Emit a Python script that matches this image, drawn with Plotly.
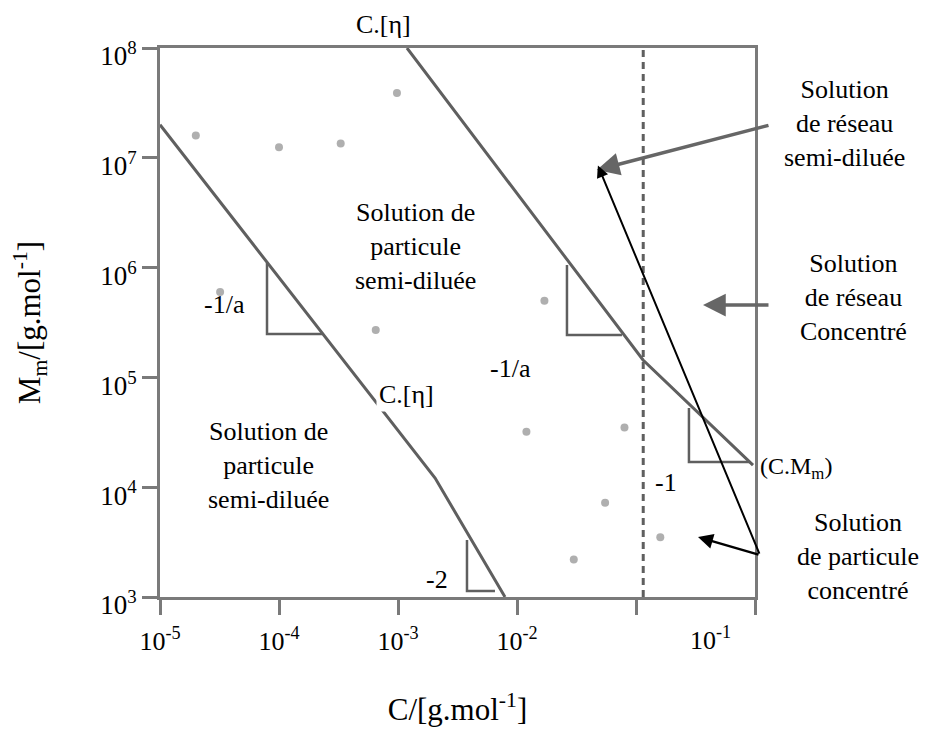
import plotly.graph_objects as go

FONT = "Liberation Serif"
LINE_GREY = "#5f5f5f"
AXIS_GREY = "#7a7a7a"

# ---- data (log-log diagram) ----
# boundary C.[eta] (dilute / semi-dilute particle solution)
left_x = [1.0e-5, 2.05e-3, 7.93e-3]
left_y = [2.0e7, 1.21e4, 1.0e3]
# boundary C.[eta] (semi-dilute particle / network)
mid_x = [1.19e-3, 0.1146, 0.962]
mid_y = [1.0e8, 1.44e5, 1.59e4]
# vertical dashed boundary
dash_x = [0.115, 0.115]
dash_y = [1.0e3, 1.0e8]
# slope triangles (legs only)
tri_1a_x = [7.93e-5, 7.93e-5, 2.30e-4]
tri_1a_y = [1.10e6, 2.48e5, 2.48e5]
tri_2_x = [3.80e-3, 3.80e-3, 6.53e-3]
tri_2_y = [3.30e3, 1.135e3, 1.135e3]
tri_1b_x = [0.0263, 0.0263, 0.0762]
tri_1b_y = [1.057e6, 2.43e5, 2.43e5]
tri_m1_x = [0.2786, 0.2786, 0.908]
tri_m1_y = [5.26e4, 1.70e4, 1.70e4]
# scan specks
speck_x = [2.0e-5, 1.0e-4, 3.3e-4, 9.8e-4, 6.5e-4, 1.7e-2, 1.2e-2, 5.5e-2, 3.2e-5, 3.0e-2, 8.0e-2, 0.16]
speck_y = [1.6e7, 1.25e7, 1.35e7, 3.9e7, 2.7e5, 5.0e5, 3.2e4, 7.2e3, 6.0e5, 2.2e3, 3.5e4, 3.5e3]

x_ticks = [1e-5, 1e-4, 1e-3, 1e-2, 1e-1, 1]
x_ticktext = ["10<sup>-5</sup>", "10<sup>-4</sup>", "10<sup>-3</sup>", "10<sup>-2</sup>", " ", " "]
y_ticks = [1e3, 1e4, 1e5, 1e6, 1e7, 1e8]
y_ticktext = ["10<sup>3</sup>", "10<sup>4</sup>", "10<sup>5</sup>", "10<sup>6</sup>", "10<sup>7</sup>", "10<sup>8</sup>"]

fig = go.Figure()

fig.add_trace(go.Scatter(x=speck_x, y=speck_y, mode="markers",
                         marker=dict(size=8, color="#6e6e6e", opacity=0.55),
                         hoverinfo="skip", showlegend=False))

def add_line(x, y, width=3, color=LINE_GREY, dash=None):
    fig.add_trace(go.Scatter(x=x, y=y, mode="lines",
                             line=dict(color=color, width=width, dash=dash),
                             hoverinfo="skip", showlegend=False, cliponaxis=True))

add_line(left_x, left_y)
add_line(mid_x, mid_y)
add_line(dash_x, dash_y, width=3, dash="7px,5px")
for tx, ty in [(tri_1a_x, tri_1a_y), (tri_2_x, tri_2_y), (tri_1b_x, tri_1b_y), (tri_m1_x, tri_m1_y)]:
    add_line(tx, ty, width=2.5)

fig.update_xaxes(type="log", range=[-5, 0], tickvals=x_ticks, ticktext=x_ticktext,
                 showgrid=False, zeroline=False, showline=True, linecolor=AXIS_GREY,
                 linewidth=3, mirror=True, ticks="outside", ticklen=15, tickwidth=2.5,
                 tickcolor=AXIS_GREY, tickfont=dict(family=FONT, size=26, color="black"),
                 ticklabelstandoff=4, automargin=False,
                 title=dict(text="C/[g.mol<sup>-1</sup>]", font=dict(family=FONT, size=31, color="black"),
                            standoff=44))
fig.update_yaxes(type="log", range=[3, 8], tickvals=y_ticks, ticktext=y_ticktext,
                 showgrid=False, zeroline=False, showline=True, linecolor=AXIS_GREY,
                 linewidth=3, mirror=True, ticks="outside", ticklen=15, tickwidth=2.5,
                 tickcolor=AXIS_GREY, tickfont=dict(family=FONT, size=27, color="black"),
                 ticklabelshift=8, automargin=False,
                 title=dict(text="M<sub>m</sub>/[g.mol<sup>-1</sup>]", font=dict(family=FONT, size=31, color="black"),
                            standoff=66))

ann = []
def txt(text, px, py, size=26, bg=None, align="center"):
    d = dict(text=text, x=px, y=py, xref="paper", yref="paper", showarrow=False,
             xanchor="center", yanchor="middle",
             font=dict(family=FONT, size=size, color="black"), align=align)
    if bg:
        d.update(bgcolor=bg, borderpad=2)
    ann.append(d)

txt("C.[η]", 0.375, 1.042)
txt("Solution de<br>particule<br>semi-diluée", 0.429, 0.638, bg="white")
txt("-1/a", 0.109, 0.532)
txt("-1/a", 0.589, 0.417, bg="white")
txt("C.[η]", 0.415, 0.368, bg="white")
txt("Solution de<br>particule<br>semi-diluée", 0.182, 0.239)
txt("-2", 0.466, 0.031)
txt("-1", 0.850, 0.209)
txt("(C.M<sub>m</sub>)", 1.069, 0.235, size=24)
txt("Solution<br>de réseau<br>semi-diluée", 1.151, 0.863)
txt("Solution<br>de réseau<br>Concentré", 1.165, 0.545)
txt("Solution<br>de particule<br>concentré", 1.173, 0.073)
txt("10<sup>-1</sup>", 0.926, -0.075, size=26)

def arrow(x0, y0, x1, y1, color, width, head, size):
    ann.append(dict(x=x1, y=y1, ax=x0, ay=y0, xref="x", yref="y", axref="x", ayref="y",
                    showarrow=True, arrowhead=head, arrowsize=size, arrowwidth=width,
                    arrowcolor=color, text=""))

arrow(0.126, 7.299, -1.330, 6.889, "#666666", 3.5, 2, 1.3)
arrow(0.126, 5.659, -0.437, 5.659, "#666666", 3.5, 2, 1.3)
arrow(0.042, 3.382, -1.320, 6.930, "black", 2, 2, 1.2)
arrow(0.042, 3.382, -0.479, 3.546, "black", 2.5, 2, 1.2)

fig.update_layout(width=931, height=740, autosize=False,
                  margin=dict(l=152, r=184, t=40, b=151),
                  paper_bgcolor="white", plot_bgcolor="white",
                  annotations=ann, showlegend=False)

fig.write_html("out.html")
